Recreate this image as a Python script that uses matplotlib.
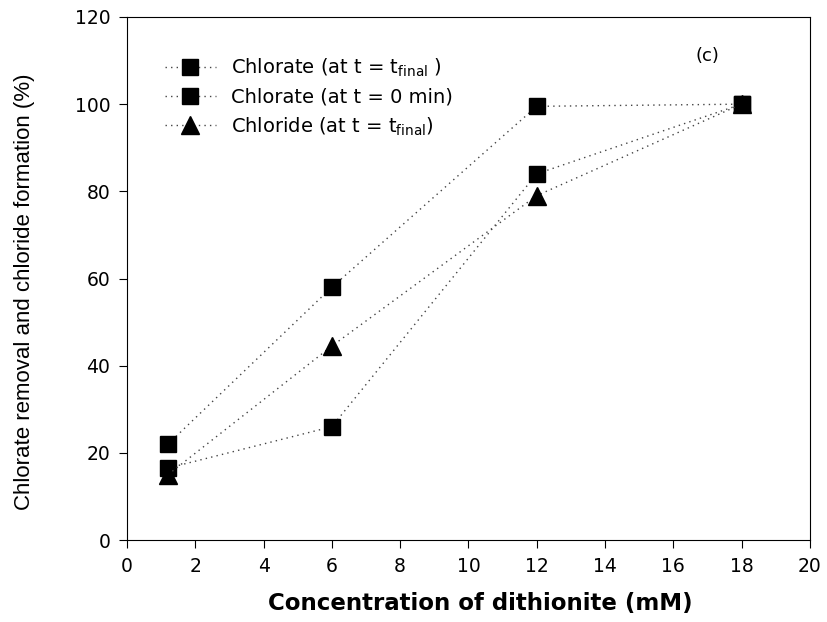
import matplotlib.pyplot as plt

dithionite = [1.2, 6, 12, 18]
chlorate_final = [22, 58, 99.5, 100]
chlorate_0 = [16.5, 26, 84, 100]
chloride_final = [15, 44.5, 79, 100]

plt.rcParams['font.family'] = ['DejaVu Sans']
plt.rcParams['mathtext.fontset'] = 'dejavusans'

fig = plt.figure(figsize=(8.28, 6.22), dpi=100)
ax = fig.add_axes([0.1534, 0.1318, 0.8246, 0.8409])

dots = (0, (1, 3))
ax.plot(dithionite, chlorate_final, color='#444444', ls=dots, lw=1,
        marker='s', ms=12, mfc='black', mec='black',
        label='Chlorate (at t = t$_{\\mathregular{final}}$ )')
ax.plot(dithionite, chlorate_0, color='#444444', ls=dots, lw=1,
        marker='s', ms=12, mfc='black', mec='black',
        label='Chlorate (at t = 0 min)')
ax.plot(dithionite, chloride_final, color='#444444', ls=dots, lw=1,
        marker='^', ms=13, mfc='black', mec='black',
        label='Chloride (at t = t$_{\\mathregular{final}}$)')

ax.set_xlim(0, 20)
ax.set_ylim(0, 120)
ax.set_xticks(range(0, 21, 2))
ax.set_yticks(range(0, 121, 20))
ax.tick_params(direction='out', length=6, pad=6, labelsize=13.5)

ax.set_xlabel('Concentration of dithionite (mM)', fontsize=16.5, fontweight='bold')
ax.xaxis.set_label_coords(0.517, -0.1)
ax.set_ylabel('Chlorate removal and chloride formation (%)', fontsize=16,
              family='Liberation Sans')
ax.yaxis.set_label_coords(-0.135, 0.475)

ax.text(17.0, 111, '(c)', fontsize=13, ha='center', va='center')

ax.legend(loc='upper left', bbox_to_anchor=(0.03, 0.958), frameon=False,
          fontsize=14, handlelength=2.6, labelspacing=0.45, handletextpad=0.8)

plt.savefig('out.png', dpi=100)
